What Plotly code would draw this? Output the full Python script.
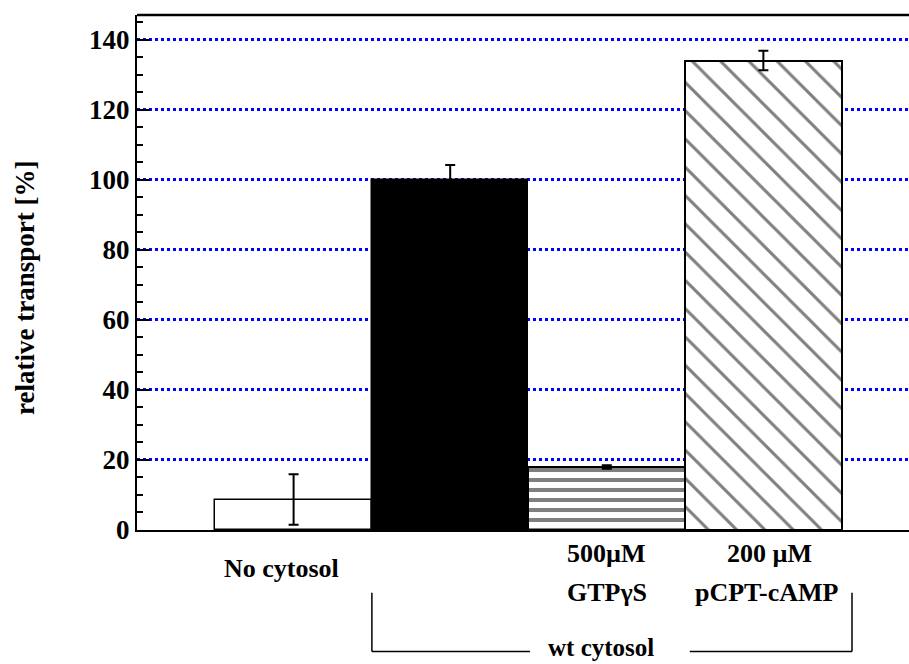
import plotly.graph_objects as go

# ---- data ----
conditions = ["No cytosol", "wt cytosol", "500µM GTPγS", "200 µM pCPT-cAMP"]
values = [8.7, 100, 18, 134]
errors = [7.2, 4.2, 0.5, 2.8]
label_top = ["", "", "500µM", "200 µM"]
label_bottom = ["", "", "GTPγS", "pCPT-cAMP"]
group_label = "wt cytosol"
y_title = "relative transport [%]"
y_ticks = [0, 20, 40, 60, 80, 100, 120, 140]

FONT = "Liberation Serif"
xpos = list(range(len(conditions)))

fig = go.Figure()

styles = [
    dict(color="white", line=dict(color="black", width=1.5)),
    dict(color="black", line=dict(color="black", width=1.5)),
    dict(color="white", line=dict(color="black", width=2),
         pattern=dict(shape="-", fgcolor="black", bgcolor="white", size=10, solidity=0.4)),
    dict(color="white", line=dict(color="black", width=2),
         pattern=dict(shape="\\", fgcolor="black", bgcolor="white", size=20, solidity=0.15)),
]

for i in xpos:
    fig.add_trace(go.Bar(
        x=[xpos[i]], y=[values[i]], width=1.0,
        marker=styles[i],
        error_y=dict(type="data", array=[errors[i]], visible=True,
                     color="black", thickness=2, width=5),
        showlegend=False, name=conditions[i],
    ))

fig.update_layout(
    width=909, height=664,
    margin=dict(l=137, r=0, t=15, b=134),
    plot_bgcolor="white", paper_bgcolor="white",
    barmode="overlay", bargap=0,
    font=dict(family=FONT, color="black"),
)

fig.update_xaxes(
    range=[-1.0, 3.93], showticklabels=False, ticks="",
    showgrid=False, zeroline=False,
    showline=True, linecolor="black", linewidth=2,
)
fig.update_yaxes(
    range=[0, 147], tickvals=y_ticks,
    ticks="inside", ticklen=13, tickwidth=2, tickcolor="black",
    minor=dict(ticks="inside", ticklen=6, tickwidth=1.5, tickcolor="black", dtick=5, showgrid=False),
    tickfont=dict(family=FONT, size=27, color="black", weight="bold"),
    showgrid=True, gridcolor="#0000ff", gridwidth=2.5, griddash="dot",
    zeroline=False,
    showline=True, linecolor="black", linewidth=2,
)

# top frame line
fig.add_shape(type="line", xref="paper", yref="paper", x0=0, x1=1, y0=1, y1=1,
              line=dict(color="black", width=2.5))

lab_font = dict(family=FONT, size=26, color="black")

# category labels
fig.add_annotation(x=-0.08, y=-0.0757, xref="x", yref="paper", text="<b>" + conditions[0] + "</b>",
                   showarrow=False, font=lab_font, xanchor="center", yanchor="middle")
for i, xv in [(2, 2.0), (3, 3.04)]:
    fig.add_annotation(x=xv, y=-0.0447, xref="x", yref="paper", text="<b>" + label_top[i] + "</b>",
                       showarrow=False, font=lab_font, xanchor="center", yanchor="middle")
for i, xv in [(2, 2.0), (3, 3.02)]:
    fig.add_annotation(x=xv, y=-0.1223, xref="x", yref="paper", text="<b>" + label_bottom[i] + "</b>",
                       showarrow=False, font=lab_font, xanchor="center", yanchor="middle")
fig.add_annotation(x=1.96, y=-0.228, xref="x", yref="paper", text="<b>" + group_label + "</b>",
                   showarrow=False, font=dict(family=FONT, size=25, color="black"),
                   xanchor="center", yanchor="middle")

# bracket
br = dict(color="black", width=1.5)
yb = -0.236
fig.add_shape(type="line", xref="x", yref="paper", x0=0.5, x1=0.5, y0=-0.122, y1=yb, line=br)
fig.add_shape(type="line", xref="x", yref="paper", x0=0.5, x1=1.51, y0=yb, y1=yb, line=br)
fig.add_shape(type="line", xref="x", yref="paper", x0=2.53, x1=3.566, y0=yb, y1=yb, line=br)
fig.add_shape(type="line", xref="x", yref="paper", x0=3.566, x1=3.566, y0=-0.122, y1=yb, line=br)

# y-axis title
fig.add_annotation(x=-0.145, y=0.47, xref="paper", yref="paper", text="<b>" + y_title + "</b>",
                   textangle=-90, showarrow=False, font=dict(family=FONT, size=27, color="black"),
                   xanchor="center", yanchor="middle")

fig.write_html("out.html", config={"displayModeBar": False},
               post_script="document.body.style.margin='0';document.body.style.overflow='hidden';")
